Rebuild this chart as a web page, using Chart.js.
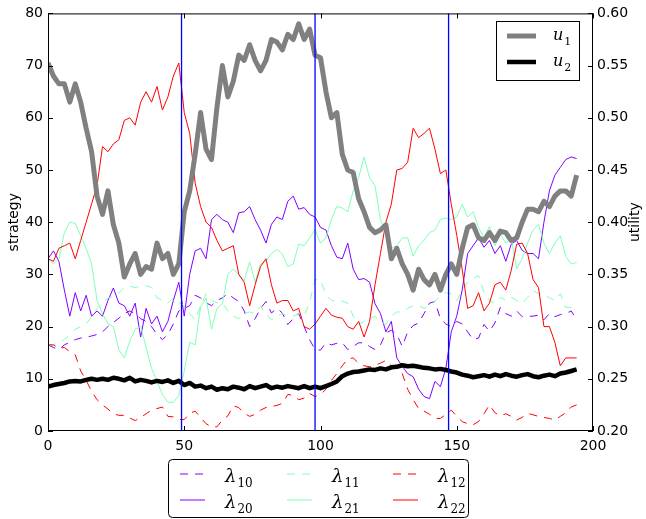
<!DOCTYPE html>
<html>
<head>
<meta charset="utf-8">
<script src="https://cdn.jsdelivr.net/npm/chart.js@4.4.1/dist/chart.umd.min.js"></script>
<style>
  body { margin: 0; background: #fff; }
  canvas { display: block; }
</style>
</head>
<body>
<canvas id="myChart" width="646" height="519"></canvas>
<script>
// sample grid: one reading every 2 steps
const steps = Array.from({ length: 98 }, (_, i) => i * 2);
const switchPoints = [49, 98, 147]; // blue vertical markers

// utilities (right axis)
const u1 = [
    0.5525, 0.54, 0.5325, 0.5325, 0.515, 0.5325, 0.515, 0.49, 0.4675, 0.425,
    0.4075, 0.43, 0.3975, 0.38, 0.3475, 0.36, 0.37, 0.35, 0.3575, 0.355,
    0.38, 0.365, 0.37, 0.35, 0.36, 0.41, 0.43, 0.465, 0.505, 0.47,
    0.46, 0.51, 0.55, 0.52, 0.535, 0.56, 0.555, 0.57, 0.555, 0.545,
    0.555, 0.575, 0.5725, 0.565, 0.58, 0.575, 0.59, 0.575, 0.585, 0.56,
    0.5575, 0.525, 0.5, 0.505, 0.465, 0.45, 0.4475, 0.4225, 0.41, 0.395,
    0.39, 0.3925, 0.3975, 0.365, 0.375, 0.36, 0.35, 0.335, 0.355, 0.345,
    0.34, 0.35, 0.335, 0.35, 0.36, 0.35, 0.375, 0.395, 0.3975, 0.385,
    0.3825, 0.39, 0.3825, 0.3915, 0.39, 0.3825, 0.385, 0.4, 0.4125, 0.4125,
    0.41, 0.42, 0.415, 0.425, 0.43, 0.43, 0.425, 0.445
];
const u2 = [
    0.2425, 0.244, 0.245, 0.246, 0.2475, 0.248, 0.2475, 0.249, 0.25, 0.249,
    0.25, 0.249, 0.251, 0.25, 0.2485, 0.251, 0.2475, 0.249, 0.248, 0.2465,
    0.248, 0.247, 0.2485, 0.246, 0.248, 0.244, 0.246, 0.2425, 0.2435, 0.241,
    0.2425, 0.2395, 0.241, 0.24, 0.2425, 0.2415, 0.24, 0.243, 0.241, 0.2425,
    0.244, 0.241, 0.2425, 0.2415, 0.243, 0.242, 0.241, 0.243, 0.241, 0.2425,
    0.241, 0.243, 0.245, 0.2475, 0.2525, 0.255, 0.2565, 0.257, 0.258, 0.259,
    0.2585, 0.26, 0.259, 0.261, 0.2615, 0.263, 0.262, 0.2625, 0.2615, 0.2605,
    0.26, 0.259, 0.2595, 0.2585, 0.257, 0.256, 0.254, 0.253, 0.2515, 0.2525,
    0.2535, 0.252, 0.254, 0.2525, 0.2545, 0.253, 0.252, 0.2535, 0.2545, 0.2525,
    0.2515, 0.253, 0.254, 0.2525, 0.255, 0.256, 0.2575, 0.259
];

// strategies (left axis)
const lam10 = [
    16.5, 16, 15.6, 16.5, 17, 17.5, 17.8, 18, 18.2, 18.5,
    19, 20, 20.8, 21.6, 22.5, 23, 22.5, 21.5, 21, 20,
    18.5, 17.5, 18.5, 20.5, 23, 23.5, 24, 26, 25.5, 24.6,
    24, 25, 25.5, 26.3, 25.5, 24.8, 23, 20, 21.5, 23.5,
    24.8, 22.6, 23.5, 22.6, 20.4, 21.5, 22.5, 20, 17.5, 15.6,
    15.5, 16.9, 16.5, 16.8, 16.9, 15.6, 16.2, 16.9, 16.9, 16.2,
    15.6, 16.5, 18.8, 19.3, 18.5, 16.2, 19, 20.2, 20.7, 22.5,
    24.5, 24.8, 21.5, 20.5, 20, 21, 20.5, 19, 17.5, 17.8,
    20.4, 19.1, 20.7, 23.7, 22.5, 22, 23, 21.9, 22, 22,
    22.2, 21.3, 22.5, 21.9, 22.3, 22.5, 23, 21.3
];
const lam20 = [
    33, 34.5, 32.5, 27, 22, 26.5, 23, 26, 22, 23,
    22, 25, 27.4, 24.5, 24, 22, 24.5, 18, 23.5, 20.5,
    22, 19, 21, 25, 28.5, 22, 30, 34.5, 35, 33,
    40.5, 41.5, 40.5, 40, 38, 41.8, 42, 43, 40.5, 38.5,
    36, 39.6, 41, 40.5, 44, 45, 42.5, 42.8, 41.5, 41,
    39, 38.5, 35.5, 33.3, 33, 36, 31, 29, 29.2, 28.5,
    24.4, 22.5, 19, 21, 14, 12.4, 11, 10.4, 8, 6.6,
    6.2, 9.5, 8.5, 12, 19, 22, 27, 34, 35.5, 37,
    35.2, 36.5, 34, 35.5, 32.5, 35.8, 36.5, 34.6, 34, 34,
    33, 40, 46, 49, 50.5, 52, 52.5, 52.2
];
const lam11 = [
    16.5, 16.5, 17, 17.5, 18.5, 19.5, 20, 20.5, 22, 23.5,
    24.5, 25.5, 25.7, 26.5, 27.5, 27.7, 27.5, 27.7, 27.8, 27.5,
    25.5, 25, 24.5, 25.5, 24.6, 24, 22.5, 21.3, 24, 26.3,
    25, 24.6, 24.5, 23, 22, 21.5, 22.5, 22.8, 22.5, 23.9,
    22.5, 21.3, 22, 22.5, 22, 22, 22.5, 22, 24.6, 29,
    29, 26, 25, 24.9, 24.9, 24.5, 22, 20.4, 21, 21.4,
    22, 21, 20.4, 22, 22.8, 22.8, 23.5, 24, 24, 23.5,
    24, 24.9, 25.9, 26.5, 26.3, 25, 27, 28.5, 29.2, 29.8,
    26.5, 25, 24.4, 25.6, 25, 25.6, 25, 24.4, 25.6, 26.9,
    26.3, 26.3, 25.5, 25, 26.3, 23.7, 23.7, 23.4
];
const lam21 = [
    33, 32, 33, 38, 40, 39.8, 37.4, 35, 32, 25,
    22.5, 20.5, 20, 15.5, 14, 17.2, 19.5, 20, 16, 12,
    9.5, 7, 5.5, 5.5, 6.8, 11.5, 17, 16.5, 23.8, 25.5,
    19.5, 23.5, 24.4, 30, 31, 30, 28.8, 32.4, 28.5, 32,
    32.6, 34, 34.8, 33.9, 31.5, 32, 35.8, 35.5, 37, 38.5,
    36, 37, 40.5, 43, 42.7, 42, 46, 48.5, 52.5, 48.5,
    47, 40.5, 38, 35, 35.5, 37, 37, 33.5, 35.5, 36.5,
    38, 38.5, 40.5, 40.8, 40.5, 41, 43.4, 41, 42, 39,
    37, 39.2, 35.5, 37.7, 36, 37, 31, 33, 36, 38.5,
    39.6, 36, 34, 36, 37.4, 33.5, 32, 32.3
];
const lam12 = [
    16.5, 16.5, 15.8, 16, 15.2, 14.6, 11.5, 9.7, 7.6, 6,
    5, 4.2, 3.3, 3, 3, 2.5, 2, 2.6, 3.3, 4,
    4.3, 4.6, 2.8, 2.7, 2.2, 2.2, 3.4, 3.8, 2.6, 1.4,
    0.8, 0.8, 2.1, 2.9, 4.8, 4.5, 3.4, 2.8, 3.2, 4,
    4.5, 4.7, 4.9, 5.3, 7, 6.8, 6, 6.3, 7.2, 6.6,
    7, 8, 9.7, 11, 12.5, 13.8, 14, 13, 12.5, 12.3,
    12.6, 13, 13.5, 12.5, 12, 11, 8, 6, 4.3, 3.8,
    3.2, 2.4, 2.4, 3.2, 4, 2.8, 1.8, 1.4, 1.2, 1.8,
    3.3, 5, 3.5, 2.9, 3.3, 2.8, 2.1, 2.6, 3.4, 3.1,
    2.8, 2.6, 2.4, 2.1, 2.8, 3.5, 4.6, 5
];
const lam22 = [
    33, 32.5, 35, 35.5, 36, 33, 36.5, 40, 43.5, 47,
    54.5, 53.5, 55, 55.8, 59.5, 60, 58.6, 63, 65, 63,
    66, 61.5, 64, 68, 70.5, 61, 57, 47.5, 43, 40,
    39, 36.5, 34.5, 35, 35.5, 30, 28.5, 24, 28, 31.5,
    33, 28, 24.5, 25, 25, 23, 23.5, 20, 19.5, 20.5,
    22, 23.5, 22.2, 21.8, 21.6, 20, 19.5, 21, 18, 21,
    28, 34, 40, 43.5, 50, 50.3, 51.5, 58, 56.2, 57,
    58, 54, 49.3, 50, 43.4, 37.5, 31, 23.5, 24, 26.5,
    23, 24.5, 28, 28.5, 27, 30.8, 35.8, 36, 34, 29,
    27.5, 20, 20, 17, 12.5, 14, 14, 14
];

const purple = "#8000ff";
const green = "#80ffb4";
const red = "#ff0000";
const dash = [8, 7];
const tickFont = { family: "DejaVu Sans", size: 14 };

function pts(values) {
    return steps.map((s, i) => ({ x: s, y: values[i] }));
}

function line(label, values, color, width, dashed, axis) {
    return {
        label: label,
        data: pts(values),
        borderColor: color,
        backgroundColor: color,
        borderWidth: width,
        borderDash: dashed ? dash : [],
        borderJoinStyle: "round",
        pointRadius: 0,
        tension: 0,
        fill: false,
        yAxisID: axis
    };
}

// first in the list is drawn on top
const datasets = [
    line("u1", u1, "#808080", 5, false, "y1"),
    line("u2", u2, "#000000", 4.5, false, "y1"),
    line("λ22", lam22, red, 1, false, "y"),
    line("λ12", lam12, red, 1, true, "y"),
    line("λ21", lam21, green, 1, false, "y"),
    line("λ11", lam11, green, 1, true, "y"),
    line("λ20", lam20, purple, 1, false, "y"),
    line("λ10", lam10, purple, 1, true, "y")
];

function seg(ctx, x0, y0, x1, y1) {
    ctx.beginPath();
    ctx.moveTo(x0, y0);
    ctx.lineTo(x1, y1);
    ctx.stroke();
}

function mathLabel(ctx, base, sub, x, y, size, subSize, drop) {
    ctx.textAlign = "left";
    ctx.textBaseline = "alphabetic";
    ctx.fillStyle = "#000";
    ctx.font = "italic " + size + "px 'DejaVu Serif'";
    ctx.fillText(base, x, y);
    const w = ctx.measureText(base).width;
    ctx.font = subSize + "px 'DejaVu Serif'";
    ctx.fillText(sub, x + w + 1, y + drop);
}

function sample(ctx, x0, x1, y, color, width, dashed) {
    ctx.save();
    ctx.strokeStyle = color;
    ctx.lineWidth = width;
    ctx.setLineDash(dashed ? dash : []);
    seg(ctx, x0, y, x1, y);
    ctx.restore();
}

const decorations = {
    id: "decorations",
    afterDatasetsDraw(chart) {
        const { ctx, chartArea: a, scales } = chart;
        const x = scales.x, y = scales.y, y1 = scales.y1;
        ctx.save();
        ctx.setLineDash([]);

        // regime switches
        switchPoints.forEach(v => {
            const px = x.getPixelForValue(v);
            ctx.strokeStyle = "#0000ff";
            ctx.lineWidth = 1.3;
            seg(ctx, px, a.top, px, a.bottom);
        });

        // frame and inward ticks
        ctx.strokeStyle = "#000";
        ctx.lineWidth = 1;
        ctx.strokeRect(a.left + 0.5, a.top + 0.5, a.width - 1, a.height - 1);
        x.ticks.forEach(t => {
            const px = Math.round(x.getPixelForValue(t.value)) + 0.5;
            seg(ctx, px, a.bottom, px, a.bottom - 5);
            seg(ctx, px, a.top, px, a.top + 5);
        });
        y.ticks.forEach(t => {
            const py = Math.round(y.getPixelForValue(t.value)) + 0.5;
            seg(ctx, a.left, py, a.left + 5, py);
        });
        y1.ticks.forEach(t => {
            const py = Math.round(y1.getPixelForValue(t.value)) + 0.5;
            seg(ctx, a.right, py, a.right - 5, py);
        });

        // axis titles
        ctx.fillStyle = "#000";
        ctx.font = "14px 'DejaVu Sans'";
        ctx.textAlign = "center";
        ctx.textBaseline = "middle";
        const midY = (a.top + a.bottom) / 2;
        [["strategy", 14], ["utility", 635]].forEach(([txt, px]) => {
            ctx.save();
            ctx.translate(px, midY);
            ctx.rotate(-Math.PI / 2);
            ctx.fillText(txt, 0, 0);
            ctx.restore();
        });

        // utility legend (top right)
        ctx.fillStyle = "#fff";
        ctx.fillRect(497, 22, 82, 58);
        ctx.strokeStyle = "#000";
        ctx.lineWidth = 1;
        ctx.strokeRect(496.5, 21.5, 83, 59);
        sample(ctx, 507, 536, 36, "#808080", 5, false);
        sample(ctx, 507, 536, 62, "#000", 4.5, false);
        mathLabel(ctx, "u", "1", 553, 40, 16, 11, 5);
        mathLabel(ctx, "u", "2", 553, 66, 16, 11, 5);

        // strategy legend (below the plot)
        ctx.beginPath();
        ctx.roundRect(168.5, 459.5, 300, 58, 4);
        ctx.fillStyle = "#fff";
        ctx.fill();
        ctx.strokeStyle = "#000";
        ctx.stroke();
        const cols = [180, 287, 393];
        const colors = [purple, green, red];
        const subs = [["10", "20"], ["11", "21"], ["12", "22"]];
        cols.forEach((cx, c) => {
            sample(ctx, cx, cx + 25, 474, colors[c], 1, true);
            sample(ctx, cx, cx + 25, 500, colors[c], 1, false);
            mathLabel(ctx, "λ", subs[c][0], cx + 45, 482, 18, 12, 5);
            mathLabel(ctx, "λ", subs[c][1], cx + 45, 508, 18, 12, 5);
        });

        ctx.restore();
    }
};

Chart.defaults.color = "#000";
Chart.defaults.font.family = "DejaVu Sans";

new Chart(document.getElementById("myChart"), {
    type: "line",
    data: { datasets: datasets },
    options: {
        responsive: false,
        animation: false,
        devicePixelRatio: 1,
        layout: { padding: { top: 13, left: 0, right: 0, bottom: 0 } },
        plugins: { legend: { display: false }, tooltip: { enabled: false } },
        scales: {
            x: {
                type: "linear",
                min: 0, max: 200,
                grid: { display: false, drawTicks: false },
                border: { display: false },
                ticks: { stepSize: 50, padding: 7, font: tickFont, maxRotation: 0 },
                afterFit: s => { s.height = 88; }
            },
            y: {
                position: "left",
                min: 0, max: 80,
                grid: { display: false, drawTicks: false },
                border: { display: false },
                ticks: { stepSize: 10, padding: 5, font: tickFont },
                afterFit: s => { s.width = 48; }
            },
            y1: {
                position: "right",
                min: 0.2, max: 0.6,
                grid: { display: false, drawTicks: false },
                border: { display: false },
                ticks: { stepSize: 0.05, padding: 4, font: tickFont, callback: v => v.toFixed(2) },
                afterFit: s => { s.width = 53; }
            }
        }
    },
    plugins: [decorations]
});
</script>
</body>
</html>
